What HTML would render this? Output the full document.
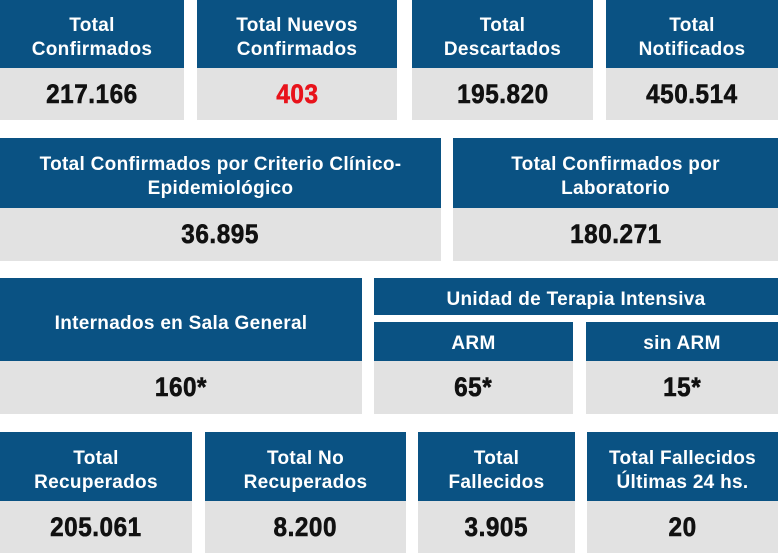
<!DOCTYPE html>
<html><head><meta charset="utf-8"><style>
html,body{margin:0;padding:0;background:#fff;}
body{width:778px;height:555px;position:relative;overflow:hidden;font-family:"Liberation Sans",Arial,sans-serif;font-weight:bold;}
.h{position:absolute;box-sizing:border-box;padding-top:8px;background:#0a5283;color:#fff;display:flex;align-items:center;justify-content:center;text-align:center;font-size:19px;line-height:24px;letter-spacing:0.3px;}
.v{position:absolute;background:#e2e2e2;color:#111;display:flex;align-items:center;justify-content:center;font-size:27px;font-weight:900;}
.v span{display:inline-block;letter-spacing:0.6px;transform:scaleX(0.9);-webkit-text-stroke:0.6px #111;}
.red span{color:#e8131b;-webkit-text-stroke:0.6px #e8131b;}
</style></head><body>
<!-- Row 1 -->
<div class="h" style="left:0;top:0;width:184px;height:68px;">Total<br>Confirmados</div>
<div class="v" style="left:0;top:68px;width:184px;height:52px;"><span>217.166</span></div>
<div class="h" style="left:197px;top:0;width:200px;height:68px;">Total Nuevos<br>Confirmados</div>
<div class="v red" style="left:197px;top:68px;width:200px;height:52px;"><span>403</span></div>
<div class="h" style="left:412px;top:0;width:181px;height:68px;">Total<br>Descartados</div>
<div class="v" style="left:412px;top:68px;width:181px;height:52px;"><span>195.820</span></div>
<div class="h" style="left:606px;top:0;width:172px;height:68px;">Total<br>Notificados</div>
<div class="v" style="left:606px;top:68px;width:172px;height:52px;"><span>450.514</span></div>
<!-- Row 2 -->
<div class="h" style="left:0;top:138px;width:441px;height:70px;">Total Confirmados por Criterio Clínico-<br>Epidemiológico</div>
<div class="v" style="left:0;top:208px;width:441px;height:53px;"><span>36.895</span></div>
<div class="h" style="left:453px;top:138px;width:325px;height:70px;">Total Confirmados por<br>Laboratorio</div>
<div class="v" style="left:453px;top:208px;width:325px;height:53px;"><span>180.271</span></div>
<!-- Row 3 -->
<div class="h" style="left:0;top:278px;width:362px;height:83px;">Internados en Sala General</div>
<div class="v" style="left:0;top:361px;width:362px;height:53px;"><span>160*</span></div>
<div class="h" style="left:374px;top:278px;width:404px;height:37px;padding-top:6px;">Unidad de Terapia Intensiva</div>
<div class="h" style="left:374px;top:322px;width:199px;height:39px;padding-top:5px;">ARM</div>
<div class="v" style="left:374px;top:361px;width:199px;height:53px;"><span>65*</span></div>
<div class="h" style="left:586px;top:322px;width:192px;height:39px;padding-top:5px;">sin ARM</div>
<div class="v" style="left:586px;top:361px;width:192px;height:53px;"><span>15*</span></div>
<!-- Row 4 -->
<div class="h" style="left:0;top:432px;width:192px;height:69px;">Total<br>Recuperados</div>
<div class="v" style="left:0;top:501px;width:192px;height:52px;"><span>205.061</span></div>
<div class="h" style="left:205px;top:432px;width:201px;height:69px;">Total No<br>Recuperados</div>
<div class="v" style="left:205px;top:501px;width:201px;height:52px;"><span>8.200</span></div>
<div class="h" style="left:418px;top:432px;width:157px;height:69px;">Total<br>Fallecidos</div>
<div class="v" style="left:418px;top:501px;width:157px;height:52px;"><span>3.905</span></div>
<div class="h" style="left:587px;top:432px;width:191px;height:69px;">Total Fallecidos<br>Últimas 24 hs.</div>
<div class="v" style="left:587px;top:501px;width:191px;height:52px;"><span>20</span></div>
</body></html>
